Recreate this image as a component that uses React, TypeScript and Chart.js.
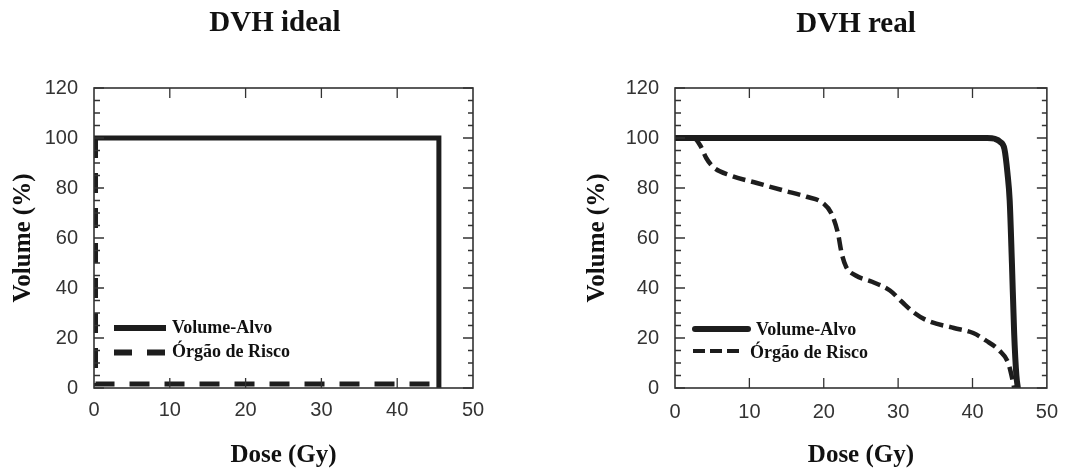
import React, { useEffect, useRef } from "react";
import { Chart, registerables } from "chart.js";

Chart.register(...registerables);

// ---------- data ----------
const TITLE_IDEAL = "DVH ideal";
const TITLE_REAL = "DVH real";
const X_TITLE = "Dose (Gy)";
const Y_TITLE = "Volume (%)";
const SERIES_LABELS = ["Volume-Alvo", "Órgão de Risco"];

const X_TICKS = [0, 10, 20, 30, 40, 50];
const Y_TICKS = [0, 20, 40, 60, 80, 100, 120];
const Y_MINOR_TICKS = [5, 10, 15, 25, 30, 35, 45, 50, 55, 65, 70, 75, 85, 90, 95, 105, 110, 115];

// DVH ideal
const IDEAL_TARGET_DOSE = [0, 45.5, 45.5];
const IDEAL_TARGET_VOL = [100, 100, 0];
const IDEAL_OAR_DOSE = [0.2, 0.2, 45.5];
const IDEAL_OAR_VOL = [100, 1.6, 1.6];

// DVH real
const REAL_TARGET_DOSE = [0, 42, 43, 43.7, 44.3, 44.7, 45.0, 45.3, 45.6, 45.9, 46.1];
const REAL_TARGET_VOL = [100, 100, 99.7, 98.5, 95.5, 86, 75, 50, 22, 5, 0];
const REAL_OAR_DOSE = [0, 2.5, 3.4, 4.2, 5.1, 7.5, 11, 14.6, 17.7, 19.9, 21, 21.9, 22.4, 23, 24.3, 26.5, 28.9, 30.5, 32.2, 33.9, 37.5, 40.1, 41.8, 43.6, 44.8, 45.4, 45.6];
const REAL_OAR_VOL = [100, 100, 97, 92, 88.5, 85, 82, 79, 76.5, 74, 70, 62, 54, 48.5, 45, 42.5, 39, 34.5, 30, 27, 24, 22, 19, 15, 10, 3, 0];

// ---------- helpers ----------
const SERIF = '"Liberation Serif", "Times New Roman", serif';
const SANS = '"Liberation Sans", Arial, Helvetica, sans-serif';
const LINE_COLOR = "#1d1d1d";

const toPoints = (xs: number[], ys: number[]) => xs.map((x, i) => ({ x, y: ys[i] }));

const titlePlugin = {
  id: "dvhTitle",
  afterDraw(chart: any, _args: any, opts: any) {
    const { ctx } = chart;
    ctx.save();
    ctx.font = `bold 29px ${SERIF}`;
    ctx.fillStyle = "#111";
    ctx.textAlign = "center";
    ctx.textBaseline = "middle";
    ctx.fillText(opts.text, opts.x, opts.y);
    ctx.restore();
  },
};

const legendPlugin = {
  id: "dvhLegend",
  afterDraw(chart: any, _args: any, opts: any) {
    const { ctx } = chart;
    ctx.save();
    (opts.items || []).forEach((it: any, i: number) => {
      const ds = chart.data.datasets[i];
      ctx.beginPath();
      ctx.strokeStyle = ds.borderColor;
      ctx.lineWidth = it.lineWidth;
      ctx.lineCap = it.cap || "butt";
      ctx.setLineDash(it.dash || []);
      ctx.moveTo(it.x1, it.y);
      ctx.lineTo(it.x2, it.y);
      ctx.stroke();
      ctx.setLineDash([]);
      ctx.font = `bold 18px ${SERIF}`;
      ctx.fillStyle = "#111";
      ctx.textAlign = "left";
      ctx.textBaseline = "middle";
      ctx.fillText(ds.label, it.textX, it.textY);
    });
    ctx.restore();
  },
};

const framePlugin = {
  id: "dvhFrame",
  afterDraw(chart: any) {
    const { ctx, chartArea: a } = chart;
    const x = chart.scales.x;
    const y = chart.scales.y;
    ctx.save();
    ctx.strokeStyle = "#333";
    ctx.lineWidth = 1.6;
    ctx.strokeRect(a.left, a.top, a.right - a.left, a.bottom - a.top);
    ctx.lineWidth = 1.3;
    ctx.beginPath();
    X_TICKS.forEach((v) => {
      if (v === X_TICKS[0] || v === X_TICKS[X_TICKS.length - 1]) return;
      const px = x.getPixelForValue(v);
      ctx.moveTo(px, a.bottom);
      ctx.lineTo(px, a.bottom - 10);
      ctx.moveTo(px, a.top);
      ctx.lineTo(px, a.top + 10);
    });
    Y_TICKS.forEach((v) => {
      const py = y.getPixelForValue(v);
      ctx.moveTo(a.left, py);
      ctx.lineTo(a.left + 10, py);
      ctx.moveTo(a.right, py);
      ctx.lineTo(a.right - 10, py);
    });
    Y_MINOR_TICKS.forEach((v) => {
      const py = y.getPixelForValue(v);
      ctx.moveTo(a.left, py);
      ctx.lineTo(a.left + 6, py);
      ctx.moveTo(a.right, py);
      ctx.lineTo(a.right - 5, py);
    });
    ctx.stroke();
    ctx.restore();
  },
};

function makeConfig(p: any) {
  return {
    type: "scatter",
    data: { datasets: p.datasets },
    plugins: [titlePlugin, legendPlugin, framePlugin],
    options: {
      responsive: false,
      animation: false,
      events: [],
      layout: { padding: { left: p.padLeft, right: p.padRight, top: 88, bottom: 0 } },
      elements: { point: { radius: 0 } },
      scales: {
        x: {
          type: "linear",
          position: "bottom",
          min: 0,
          max: 50,
          afterBuildTicks: (s: any) => {
            s.ticks = X_TICKS.map((v) => ({ value: v }));
          },
          afterFit: (s: any) => {
            s.height = 83;
          },
          grid: { display: false, drawTicks: false },
          border: { display: false },
          ticks: {
            padding: p.xTickPad,
            autoSkip: false,
            maxRotation: 0,
            color: "#333",
            font: { family: SANS, size: 20 },
          },
          title: {
            display: true,
            text: X_TITLE,
            color: "#111",
            font: { family: SERIF, size: 25, weight: "bold", lineHeight: 1.2 },
            padding: { top: 0, bottom: 0 },
          },
        },
        y: {
          type: "linear",
          position: "left",
          min: 0,
          max: 120,
          afterBuildTicks: (s: any) => {
            s.ticks = Y_TICKS.map((v) => ({ value: v }));
          },
          afterFit: (s: any) => {
            s.width = p.yWidth;
          },
          grid: { display: false, drawTicks: false },
          border: { display: false },
          ticks: {
            padding: 16,
            color: "#333",
            font: { family: SANS, size: 20 },
          },
          title: {
            display: true,
            text: Y_TITLE,
            color: "#111",
            font: { family: SERIF, size: 25, weight: "bold", lineHeight: 1.2 },
            padding: { top: 9, bottom: 0 },
          },
        },
      },
      plugins: {
        legend: { display: false },
        tooltip: { enabled: false },
        dvhTitle: p.title,
        dvhLegend: { items: p.legendItems },
      },
    },
  };
}

function ChartCanvas({ config, left }: { config: any; left: number }) {
  const ref = useRef<HTMLCanvasElement | null>(null);
  useEffect(() => {
    if (!ref.current) return;
    const chart = new Chart(ref.current, config);
    return () => chart.destroy();
  }, [config]);
  return (
    <canvas
      ref={ref}
      width={535}
      height={471}
      style={{ position: "absolute", left, top: 0, width: 535, height: 471, display: "block" }}
    />
  );
}

const idealConfig = makeConfig({
  padLeft: 0,
  padRight: 62,
  yWidth: 94,
  xTickPad: 10,
  title: { text: TITLE_IDEAL, x: 275, y: 23.5 },
  datasets: [
    {
      label: SERIES_LABELS[0],
      data: toPoints(IDEAL_TARGET_DOSE, IDEAL_TARGET_VOL),
      showLine: true,
      borderColor: LINE_COLOR,
      backgroundColor: LINE_COLOR,
      borderWidth: 5,
      tension: 0,
      borderCapStyle: "butt",
      borderJoinStyle: "miter",
      pointRadius: 0,
    },
    {
      label: SERIES_LABELS[1],
      data: toPoints(IDEAL_OAR_DOSE, IDEAL_OAR_VOL),
      showLine: true,
      borderColor: LINE_COLOR,
      backgroundColor: LINE_COLOR,
      borderWidth: 5,
      borderDash: [20, 15],
      tension: 0,
      borderCapStyle: "butt",
      borderJoinStyle: "miter",
      pointRadius: 0,
    },
  ],
  legendItems: [
    { x1: 114, x2: 166, y: 328, lineWidth: 6, dash: [], textX: 172, textY: 328 },
    { x1: 114, x2: 166, y: 352.5, lineWidth: 6, dash: [18, 15], textX: 172, textY: 352 },
  ],
});

const realConfig = makeConfig({
  padLeft: 39,
  padRight: 14,
  yWidth: 101,
  xTickPad: 12,
  title: { text: TITLE_REAL, x: 321, y: 25 },
  datasets: [
    {
      label: SERIES_LABELS[0],
      data: toPoints(REAL_TARGET_DOSE, REAL_TARGET_VOL),
      showLine: true,
      borderColor: LINE_COLOR,
      backgroundColor: LINE_COLOR,
      borderWidth: 6,
      cubicInterpolationMode: "monotone",
      borderCapStyle: "round",
      borderJoinStyle: "round",
      pointRadius: 0,
    },
    {
      label: SERIES_LABELS[1],
      data: toPoints(REAL_OAR_DOSE, REAL_OAR_VOL),
      showLine: true,
      borderColor: LINE_COLOR,
      backgroundColor: LINE_COLOR,
      borderWidth: 4.5,
      borderDash: [13, 6],
      cubicInterpolationMode: "monotone",
      borderCapStyle: "butt",
      borderJoinStyle: "round",
      pointRadius: 0,
    },
  ],
  legendItems: [
    { x1: 695 - 535, x2: 748 - 535, y: 329, lineWidth: 6, cap: "round", dash: [], textX: 756 - 535, textY: 330 },
    { x1: 693 - 535, x2: 742 - 535, y: 351, lineWidth: 4, dash: [12, 5], textX: 750 - 535, textY: 353 },
  ],
});

export default function App() {
  return (
    <div style={{ position: "fixed", left: 0, top: 0, width: 1070, height: 471, background: "#fff" }}>
      <ChartCanvas config={idealConfig} left={0} />
      <ChartCanvas config={realConfig} left={535} />
    </div>
  );
}
